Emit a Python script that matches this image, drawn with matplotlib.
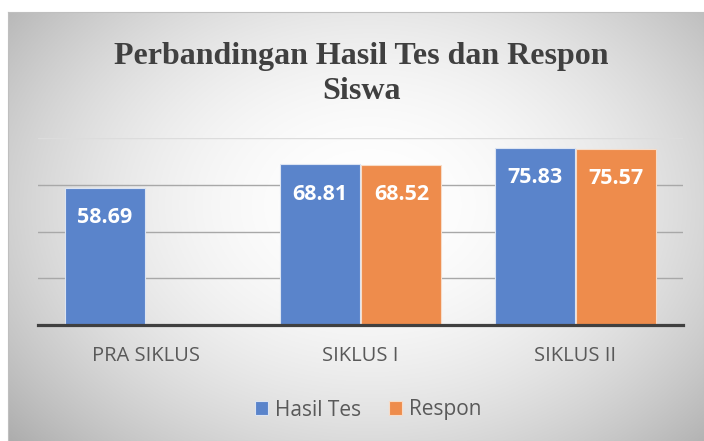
import numpy as np
import matplotlib.pyplot as plt

categories = ['PRA SIKLUS', 'SIKLUS I', 'SIKLUS II']
hasil_tes = [58.69, 68.81, 75.83]
respon = [np.nan, 68.52, 75.57]
series_names = ['Hasil Tes', 'Respon']

blue = '#5a84cb'
orange = '#ee8c4c'
text_gray = '#595959'

plt.rcParams['font.family'] = ['Open Sans', 'DejaVu Sans']

fig = plt.figure(figsize=(7.04, 4.41), dpi=100)
fig.patch.set_facecolor('white')

# radial gray background of the chart area
bg = fig.add_axes([8 / 704, 0, 1 - 8 / 704, 1 - 12 / 441])
yy, xx = np.mgrid[0:1:300j, 0:1:400j]
r = np.sqrt(((xx - 0.52) / 0.62) ** 2 + ((yy - 0.45) / 0.75) ** 2)
shade = 1.0 - 0.26 * np.clip(r, 0, 1.25) ** 2
bg.imshow(np.dstack([shade] * 3), extent=[0, 1, 0, 1], aspect='auto',
          origin='upper')
bg.set_xticks([])
bg.set_yticks([])
for sp in bg.spines.values():
    sp.set_color('#bfbfbf')
    sp.set_linewidth(0.8)

ax = fig.add_axes([38 / 704, 1 - 325 / 441, 645 / 704, (325 - 138.2) / 441])
ax.patch.set_alpha(0)

x = np.arange(len(categories))
w = 0.372
off = 0.19
b1 = ax.bar(x - off, hasil_tes, w, color=blue, edgecolor='#dce4f2',
            linewidth=0.8, zorder=3, label=series_names[0])
b2 = ax.bar(x + off, respon, w, color=orange, edgecolor='#f7dcc8',
            linewidth=0.8, zorder=3, label=series_names[1])

for xs, vals in [(x - off, hasil_tes), (x + off, respon)]:
    for xi, v in zip(xs, vals):
        if np.isnan(v):
            continue
        ax.annotate(f'{v:.2f}', (xi, v), xytext=(0, -21.5),
                    textcoords='offset points', ha='center', va='center',
                    color='white', fontsize=15.5, fontweight='bold', zorder=4)

ax.set_xlim(-0.5, 2.5)
ax.set_ylim(0, 80)
ax.set_yticks([20, 40, 60, 80])
ax.yaxis.grid(True, color='#a8a8a8', linewidth=1.0, zorder=1)
ax.get_ygridlines()[-1].set_color('#dcdcdc')
ax.tick_params(axis='y', left=False, labelleft=False)
ax.set_xticks(x)
ax.set_xticklabels(categories, color=text_gray, fontsize=14.5)
ax.tick_params(axis='x', length=0, pad=15)
for s in ['top', 'right', 'left']:
    ax.spines[s].set_visible(False)
ax.spines['bottom'].set_color('#404040')
ax.spines['bottom'].set_linewidth(2.3)
ax.spines['bottom'].set_zorder(5)

fig.text(0.513, 1 - 74 / 441, 'Perbandingan Hasil Tes dan Respon\nSiswa',
         ha='center', va='center', fontsize=23, fontweight='bold',
         color='#404040', family='Liberation Serif', linespacing=1.25)

fig.legend(handles=[b1, b2], labels=series_names, loc='center',
           bbox_to_anchor=(0.523, 1 - 410 / 441), ncol=2, frameon=False,
           fontsize=15, labelcolor=text_gray, handlelength=0.65,
           handleheight=0.65, handletextpad=0.35, columnspacing=1.3)

fig.savefig('out.png', dpi=100)
